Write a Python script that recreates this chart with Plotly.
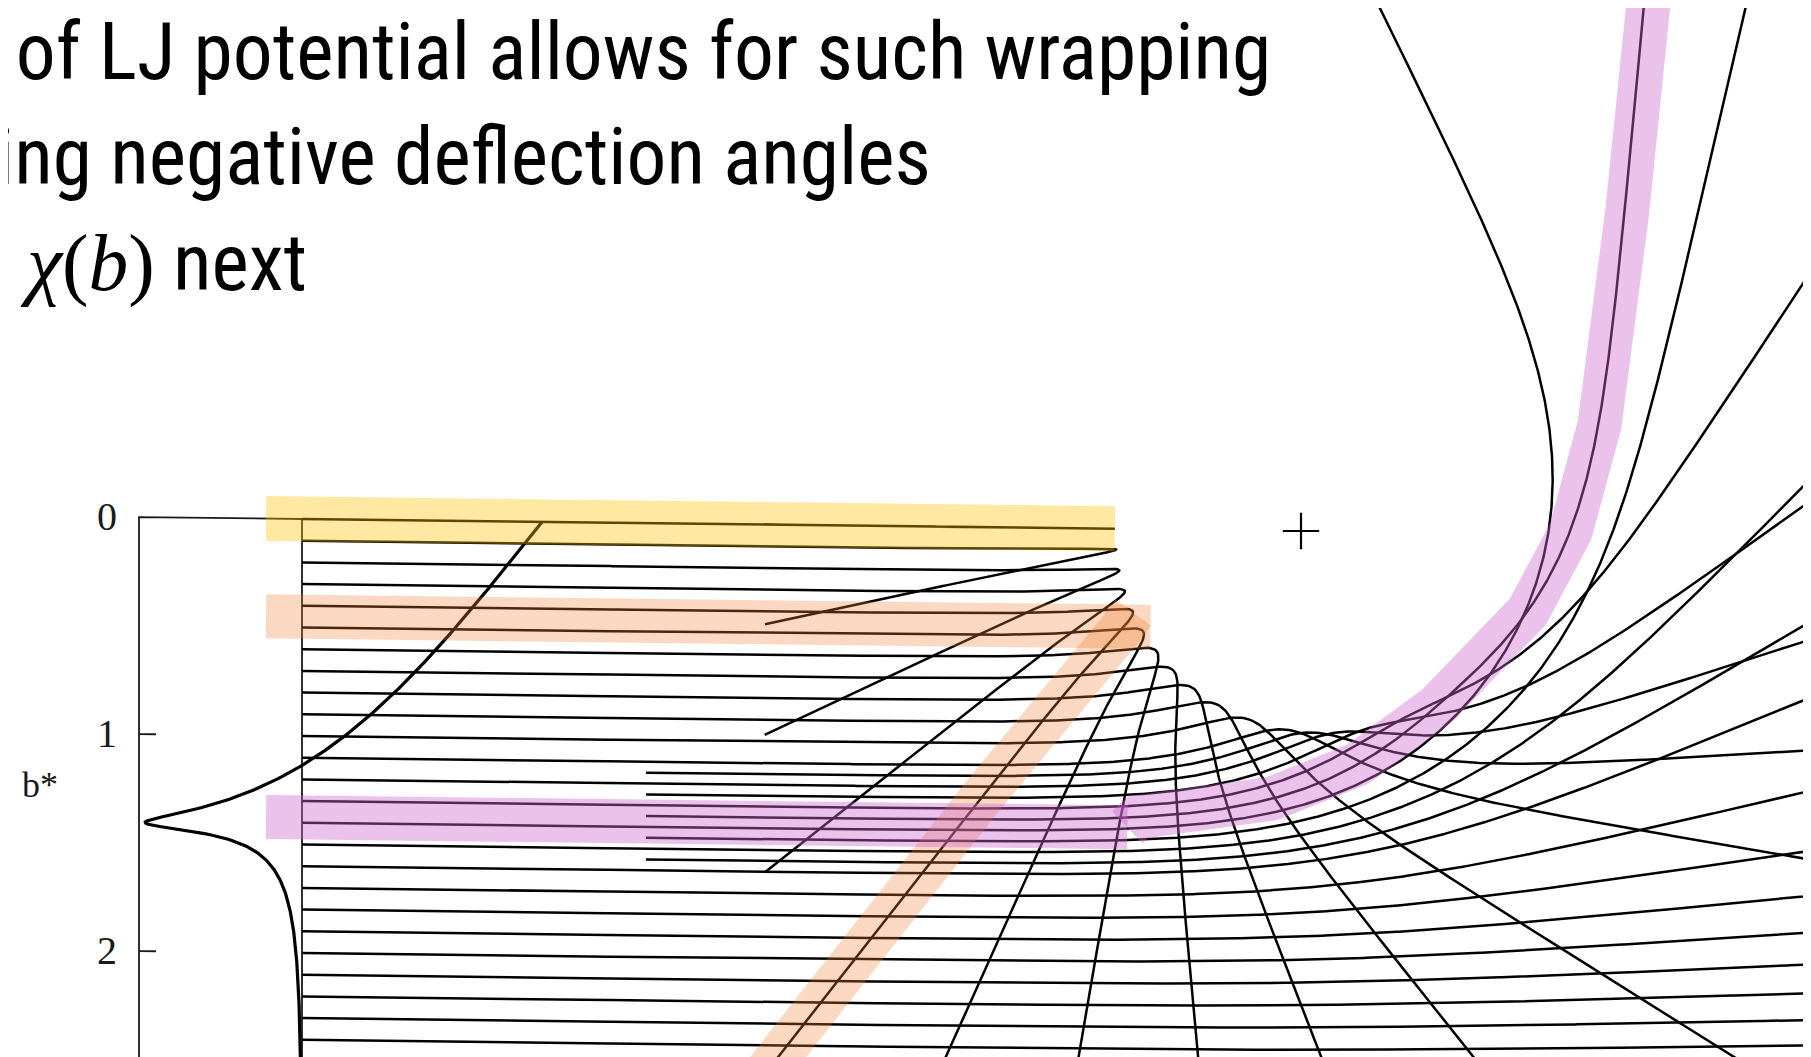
import numpy as np
import plotly.graph_objects as go

# ---------------- data ----------------
E_STAR = 1.28           # reduced collision energy E/epsilon of the LJ trajectories
SIGMA = 0.891           # LJ size parameter sigma in units of b* (b* = b / r_m)
B_MAIN = [0.0, 0.1, 0.2, 0.3, 0.4, 0.5, 0.6, 0.7, 0.8, 0.9, 1.0, 1.1, 1.2,
          1.3, 1.4, 1.5, 1.6, 1.7, 1.8, 1.9, 2.0, 2.1, 2.2, 2.3, 2.4]
B_LATE = [1.15, 1.25, 1.35, 1.45, 1.55]
B_TICK_VALUES = [0, 1, 2]
B_TICK_TEXT = ["0", "1", "2"]
AXIS_TITLE = "b*"
TEXT_LINE_1 = "t of LJ potential allows for such wrapping"
TEXT_LINE_2 = "ing negative deflection angles"
TEXT_LINE_3_MATH = "<i>χ</i>(<i>b</i>)"
TEXT_LINE_3 = " next"
# impact parameters followed by the hand-drawn highlight strokes
BAND_YELLOW_B = 0.0
BAND_ORANGE_B = [0.45, 0.4]     # horizontal stroke, returning stroke
BAND_PINK_B = [1.375, 1.35]     # horizontal stroke, wrapping stroke

# ---------------- layout / geometry ----------------
W, H = 1811, 1057
OFF = 8.0                  # page margin of the html body
PX = 217.0                 # pixels per unit of b*
CX, CY = 1301.0, 531.0     # pixel position of the scattering centre
SHEAR = 0.012              # slight skew of the scanned figure
X_START = (302 - CX) / PX  # start of trajectories / chi = 0 axis
X_LATE = (646 - CX) / PX
X_BACK = (766 - CX) / PX
X_AXIS = (139 - CX) / PX
X_BAND0 = (266 - CX) / PX
CHI_UNITS_PER_PI = 240.0 / PX
XMIN, XMAX = (OFF - CX) / PX, (W + OFF - CX) / PX
YMIN, YMAX = (OFF - CY) / PX, (H + OFF - CY) / PX


def sh(x, y):
    return np.asarray(y) + SHEAR * np.asarray(x)


def pot(r):
    s6 = (SIGMA / r) ** 6
    return 4.0 * (s6 * s6 - s6)


def accel(x, y):
    r2 = x * x + y * y
    s6 = (SIGMA * SIGMA / r2) ** 3
    f = (48.0 * s6 * s6 - 24.0 * s6) / r2
    return f * x, f * y


def integrate(x, y, vx, vy, dt, nsteps, every=0):
    rec_x, rec_y, rec_vx = [], [], []
    if every:
        rec_x.append(x.copy()); rec_y.append(y.copy()); rec_vx.append(vx.copy())
    h = 0.5 * dt
    for i in range(nsteps):
        ax1, ay1 = accel(x, y)
        ax2, ay2 = accel(x + h * vx, y + h * vy)
        vx2, vy2 = vx + h * ax1, vy + h * ay1
        ax3, ay3 = accel(x + h * vx2, y + h * vy2)
        vx3, vy3 = vx + h * ax2, vy + h * ay2
        ax4, ay4 = accel(x + dt * vx3, y + dt * vy3)
        vx4, vy4 = vx + dt * ax3, vy + dt * ay3
        x = x + dt / 6 * (vx + 2 * vx2 + 2 * vx3 + vx4)
        y = y + dt / 6 * (vy + 2 * vy2 + 2 * vy3 + vy4)
        vx = vx + dt / 6 * (ax1 + 2 * ax2 + 2 * ax3 + ax4)
        vy = vy + dt / 6 * (ay1 + 2 * ay2 + 2 * ay3 + ay4)
        if every and (i + 1) % every == 0:
            rec_x.append(x.copy()); rec_y.append(y.copy()); rec_vx.append(vx.copy())
    return x, y, vx, vy, np.array(rec_x), np.array(rec_y), np.array(rec_vx)


def deflection(b, dt, nsteps):
    xs = np.full_like(b, -10.0)
    vs = np.sqrt(2.0 * (E_STAR - pot(np.sqrt(100.0 + b ** 2))))
    _, _, fvx, fvy, _, _, _ = integrate(xs, b.copy(), vs, np.zeros_like(b), dt, nsteps)
    c = np.arctan2(fvy, fvx)
    c = np.where(c < -0.9 * np.pi, c + 2 * np.pi, c)
    c[b == 0] = np.pi
    return c


# ---------------- trajectories ----------------
guide_b = BAND_ORANGE_B + BAND_PINK_B
b_all = np.array(B_MAIN + B_LATE + guide_b, float)
x0 = np.array([X_START] * len(B_MAIN) + [X_LATE] * len(B_LATE) + [X_BAND0] * len(guide_b))
r0 = np.sqrt(x0 ** 2 + b_all ** 2)
v0 = np.sqrt(2.0 * (E_STAR - pot(r0)))
_, _, _, _, TX, TY, TVX = integrate(x0.copy(), b_all.copy(), v0.copy(), np.zeros_like(v0),
                                     0.002, 5600, every=3)


def cut(j, back=True):
    X, Y, VX = TX[:, j], TY[:, j], TVX[:, j]
    Ys = sh(X, Y)
    stop = (X > XMAX + 0.05) | (Ys < YMIN - 0.05) | (Ys > YMAX + 0.05)
    if back:
        stop |= (VX < 0) & (X < X_BACK)
    idx = int(np.argmax(stop)) if stop.any() else len(X) - 1
    return X[: idx + 1], Y[: idx + 1]


# ---------------- deflection function chi(b) ----------------
b_grid = np.linspace(0.0, 2.62, 525)
chi = deflection(b_grid, 0.003, 7000)

fig = go.Figure()

# axis frame of the deflection plot
frame_x = [X_START, X_AXIS, X_AXIS]
frame_y = [0.0, 0.0, YMAX + 0.2]
fig.add_trace(go.Scatter(x=frame_x, y=sh(frame_x, frame_y), mode="lines",
                         line=dict(color="#1a1a1a", width=1.8), hoverinfo="skip"))
fig.add_trace(go.Scatter(x=[X_START, X_START], y=sh([X_START, X_START], [0.0, YMAX + 0.2]),
                         mode="lines", line=dict(color="#1a1a1a", width=1.8), hoverinfo="skip"))
for t in B_TICK_VALUES[1:]:
    tx = [X_AXIS, X_AXIS + 17 / PX]
    fig.add_trace(go.Scatter(x=tx, y=sh(tx, [t, t]), mode="lines",
                             line=dict(color="#1a1a1a", width=1.8), hoverinfo="skip"))

# deflection function
cx = X_START + chi / np.pi * CHI_UNITS_PER_PI
fig.add_trace(go.Scatter(x=cx, y=sh(cx, b_grid), mode="lines",
                         line=dict(color="#000000", width=3.2), hoverinfo="skip"))

# trajectories
n_draw = len(B_MAIN) + len(B_LATE)
for j in range(n_draw):
    X, Y = cut(j)
    fig.add_trace(go.Scatter(x=X, y=sh(X, Y), mode="lines",
                             line=dict(color="#000000", width=2.5), hoverinfo="skip"))

# scattering centre
fig.add_trace(go.Scatter(x=[0.0], y=[0.0], mode="markers",
                         marker=dict(symbol="cross-thin", size=26,
                                     line=dict(color="#000000", width=2.2)),
                         hoverinfo="skip"))


def band(xs, ys, color, width):
    xs = np.asarray(xs, float)
    fig.add_trace(go.Scatter(x=xs, y=sh(xs, ys), mode="lines",
                             line=dict(color=color, width=width), hoverinfo="skip"))


# highlight strokes (they follow the trajectories)
YEL = "rgba(255,192,0,0.37)"
ORA = "rgba(237,125,49,0.30)"
PIN = "rgba(204,102,204,0.40)"
xt0 = TX[:, 0].max()
band([X_BAND0, xt0], [BAND_YELLOW_B, BAND_YELLOW_B], YEL, 45)

j_oh, j_or, j_ph, j_pw = n_draw, n_draw + 1, n_draw + 2, n_draw + 3
tip = TX[:, B_MAIN.index(0.5)].max()
band([X_BAND0, tip + 0.03], [BAND_ORANGE_B[0]] * 2, ORA, 44)
Xr, Yr = cut(j_or, back=False)
k = int(np.argmax(Xr))
band(Xr[k:], Yr[k:], ORA, 44)

Xg, Yg = cut(j_pw, back=False)
k = int(np.argmax(np.abs(Yg - BAND_PINK_B[1]) > 0.02))
band([X_BAND0, Xg[k]], [BAND_PINK_B[0]] * 2, PIN, 44)
band(np.r_[Xg[k], Xg[k:]], np.r_[BAND_PINK_B[0], Yg[k:]], PIN, 44)

# tick labels and axis title
for t, s in zip(B_TICK_VALUES, B_TICK_TEXT):
    fig.add_annotation(x=(107 - CX) / PX, y=float(sh((107 - CX) / PX, t)), text=s,
                       showarrow=False, xref="x", yref="y",
                       font=dict(family="Liberation Serif, serif", size=40, color="#1a1a1a"))
fig.add_annotation(x=(40 - CX) / PX, y=(785 - CY) / PX, text=AXIS_TITLE, showarrow=False,
                   xref="x", yref="y",
                   font=dict(family="Liberation Serif, serif", size=36, color="#1a1a1a"))


def px_x(p):
    return (p - OFF) / W


def px_y(p):
    return 1 - (p - OFF) / H


# slide text
TFONT = "Liberation Sans Narrow, Roboto Condensed, Arial Narrow, sans-serif"
fig.add_annotation(x=px_x(1273), y=px_y(100), xref="paper", yref="paper", xanchor="right",
                   yanchor="bottom", text=TEXT_LINE_1, showarrow=False,
                   font=dict(family=TFONT, size=79.5, color="#000000"))
fig.add_annotation(x=px_x(933), y=px_y(205), xref="paper", yref="paper", xanchor="right",
                   yanchor="bottom", text=TEXT_LINE_2, showarrow=False,
                   font=dict(family=TFONT, size=79.5, color="#000000"))
fig.add_annotation(x=px_x(18), y=px_y(311), xref="paper", yref="paper", xanchor="left",
                   yanchor="bottom",
                   text='<span style="font-family:Liberation Serif">' + TEXT_LINE_3_MATH + "</span>" + TEXT_LINE_3,
                   showarrow=False, font=dict(family=TFONT, size=79.5, color="#000000"))

fig.update_layout(width=W, height=H, margin=dict(l=0, r=0, t=0, b=0),
                  paper_bgcolor="white", plot_bgcolor="white", showlegend=False,
                  xaxis=dict(range=[XMIN, XMAX], visible=False, fixedrange=True),
                  yaxis=dict(range=[YMAX, YMIN], visible=False, fixedrange=True))

fig.write_html("out.html")
